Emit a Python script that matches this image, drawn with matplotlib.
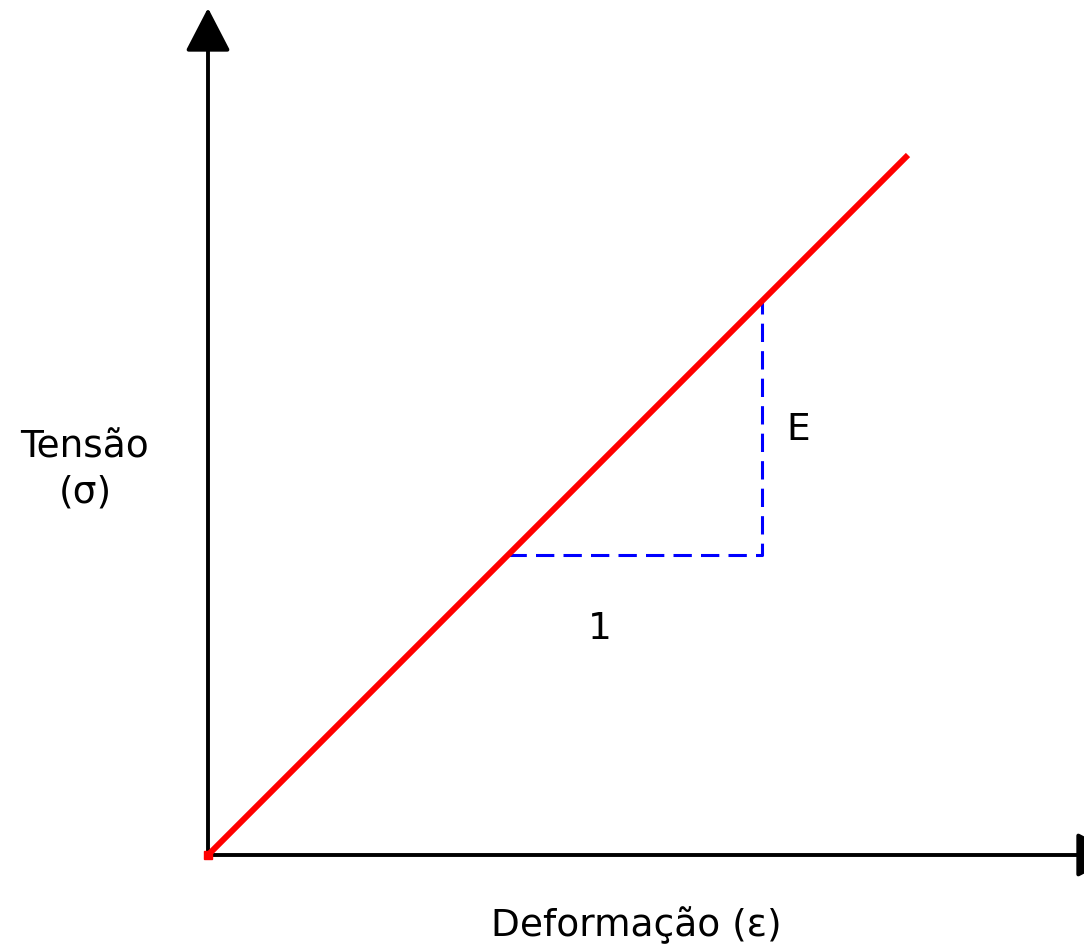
import matplotlib.pyplot as plt

# data (units: origin at 0,0)
strain = [0.0, 7.0]
stress = [0.0, 7.0]

# slope triangle: horizontal run then vertical rise
tri_x = [3.0, 5.54, 5.54]
tri_y = [3.0, 3.0, 5.54]

x_label = 'Deformação (ε)'
y_label = 'Tensão\n(σ)'
run_label = '1'
rise_label = 'E'


def main():
	fig = plt.figure(figsize=(10.84, 9.52), dpi=100)
	ax = fig.add_axes([0, 0, 1, 1])
	ax.set_xlim(-2.08, 8.76)
	ax.set_ylim(-0.97, 8.55)
	ax.axis('off')

	# axes with arrows (x arrow tip runs off the right edge, like the original)
	head = '-|>,head_length=2.7,head_width=1.4'
	ax.annotate('', xy=(0, 8.47), xytext=(0, 0),
		arrowprops=dict(arrowstyle=head, color='black', lw=2.8, shrinkA=0, shrinkB=0))
	ax.annotate('', xy=(9.12, 0), xytext=(0, 0), annotation_clip=False,
		arrowprops=dict(arrowstyle=head, color='black', lw=2.8, shrinkA=0, shrinkB=0))

	# linear elastic line
	ax.plot(strain, stress, color='red', lw=4.3, solid_capstyle='butt', zorder=3)
	ax.plot(strain[0], stress[0], marker='s', color='red', ms=6, zorder=3)

	# slope triangle
	ax.plot(tri_x, tri_y, color='blue', lw=2.2, ls=(0, (6, 3)), zorder=2)

	fs = 27
	ax.text(-1.23, 3.85, y_label, ha='center', va='center', fontsize=fs, linespacing=1.3)
	ax.text(4.28, -0.7, x_label, ha='center', va='center', fontsize=fs)
	ax.text(3.92, 2.26, run_label, ha='center', va='center', fontsize=fs)
	ax.text(5.9, 4.25, rise_label, ha='center', va='center', fontsize=fs)

	fig.savefig('out.png', dpi=100)
	plt.close()


if __name__ == '__main__':
	main()
